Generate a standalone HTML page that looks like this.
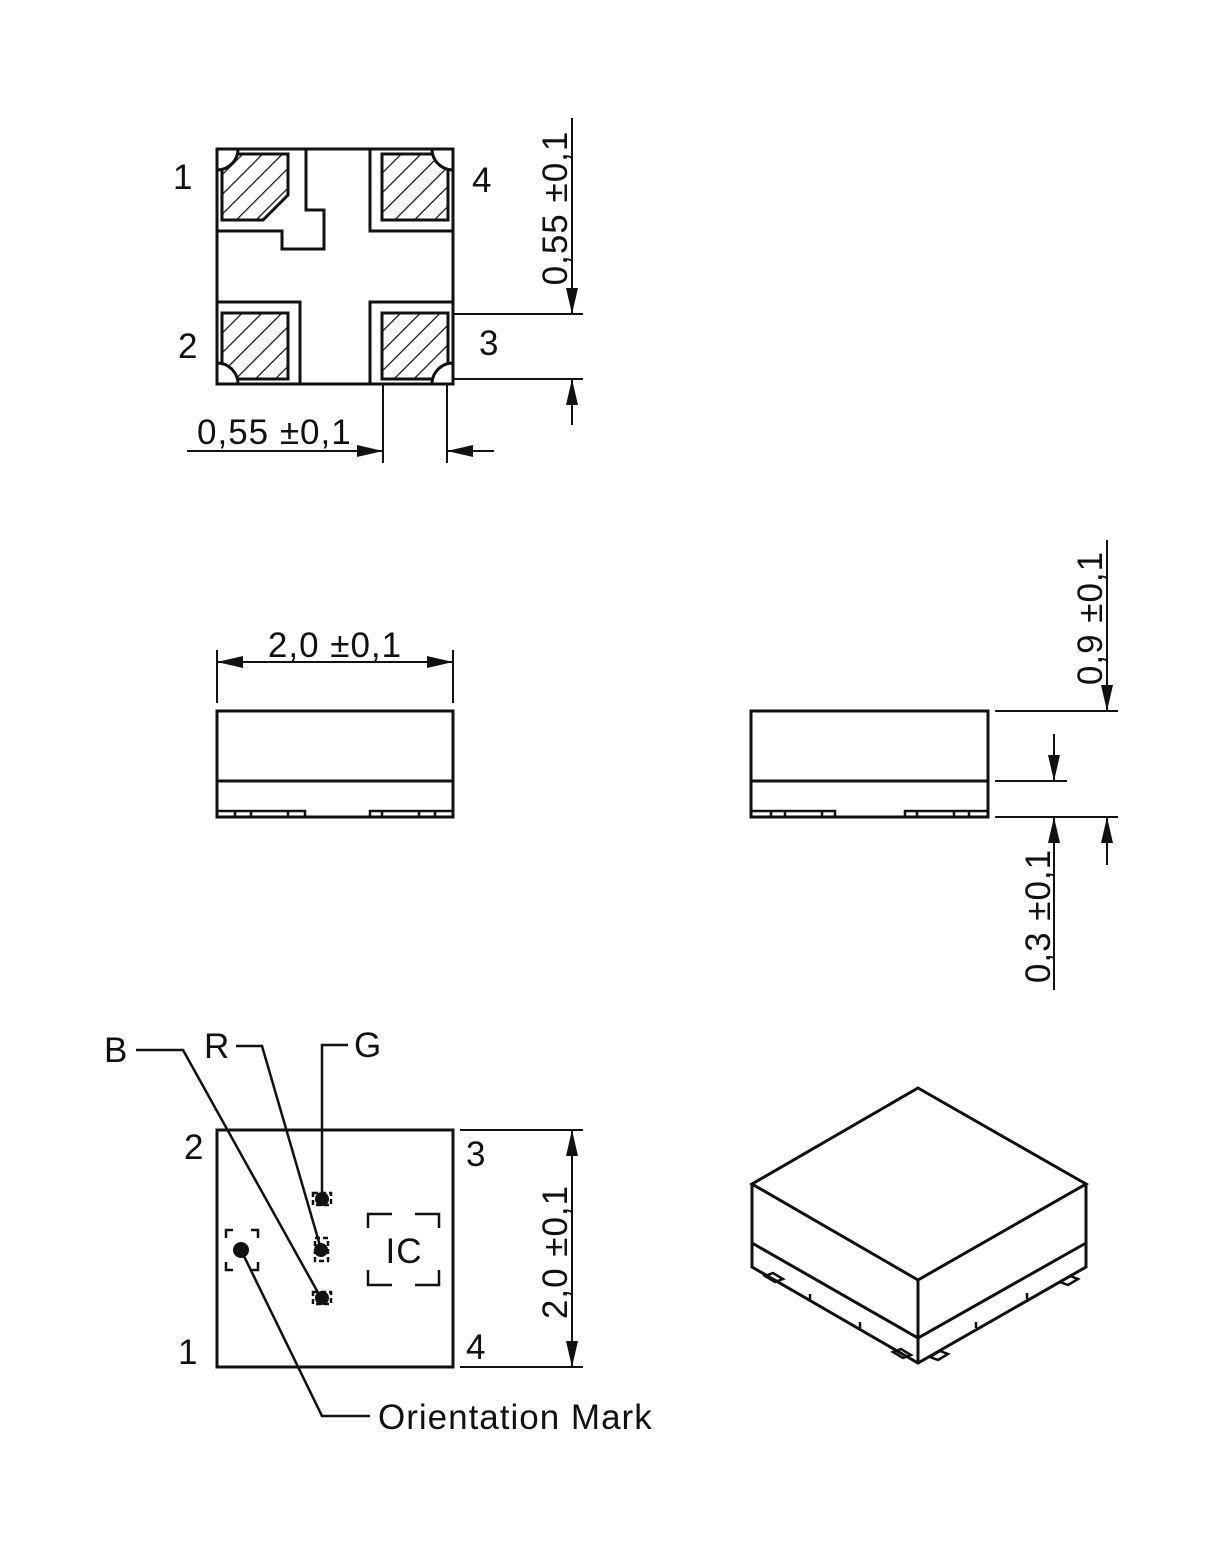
<!DOCTYPE html>
<html><head><meta charset="utf-8"><style>
html,body{margin:0;padding:0;background:#fff}
svg{display:block}
text{font-family:"Liberation Sans",sans-serif;font-size:35px;letter-spacing:1px;fill:#111}
</style></head><body>
<svg width="1229" height="1558" viewBox="0 0 1229 1558" xmlns="http://www.w3.org/2000/svg">
<defs>
<pattern id="h" patternUnits="userSpaceOnUse" width="14" height="14" patternTransform="rotate(45)">
<line x1="0" y1="0" x2="0" y2="14" stroke="#111" stroke-width="2.5"/>
</pattern>
<marker id="a" viewBox="0 0 26 12" refX="26" refY="6" markerWidth="26" markerHeight="12" markerUnits="userSpaceOnUse" orient="auto"><path d="M0,0 L26,6 L0,12z" fill="#111"/></marker>
</defs>
<g stroke="#111" stroke-width="3" fill="none">
<!-- top view -->
<rect x="217" y="149" width="236" height="235"/>
<polyline points="306,149 306,210 324,210 324,249 282,249 282,231 217,231"/>
<polyline points="370,149 370,231 453,231"/>
<polyline points="217,302 300,302 300,384"/>
<polyline points="453,302 370,302 370,384"/>
<g stroke-width="3">
<path d="M222,154 H288 V195 L263,220 H222 Z" fill="url(#h)"/>
<path d="M382,154 H448 V220 H382 Z" fill="url(#h)"/>
<path d="M222,313 H288 V379 H222 Z" fill="url(#h)"/>
<path d="M382,313 H448 V379 H382 Z" fill="url(#h)"/>
</g>
<path d="M217,170 A21,21 0 0 0 238,149 L217,149Z" fill="#fff" stroke="none"/>
<path d="M432,149 A21,21 0 0 0 453,170 L453,149Z" fill="#fff" stroke="none"/>
<path d="M217,363 A21,21 0 0 1 238,384 L217,384Z" fill="#fff" stroke="none"/>
<path d="M432,384 A21,21 0 0 1 453,363 L453,384Z" fill="#fff" stroke="none"/>
<path d="M217,170 A21,21 0 0 0 238,149"/>
<path d="M432,149 A21,21 0 0 0 453,170"/>
<path d="M217,363 A21,21 0 0 1 238,384"/>
<path d="M432,384 A21,21 0 0 1 453,363"/>
<rect x="217" y="149" width="236" height="235"/>
<g stroke-width="2">
<line x1="453" y1="314" x2="583" y2="314"/>
<line x1="453" y1="379" x2="583" y2="379"/>
<line x1="572" y1="118" x2="572" y2="314" marker-end="url(#a)"/>
<line x1="572" y1="425" x2="572" y2="379" marker-end="url(#a)"/>
<line x1="383" y1="384" x2="383" y2="463"/>
<line x1="447" y1="384" x2="447" y2="463"/>
<line x1="187" y1="451" x2="383" y2="451" marker-end="url(#a)"/>
<line x1="494" y1="451" x2="447" y2="451" marker-end="url(#a)"/>
</g>
<!-- front view -->
<rect x="217" y="711" width="236" height="106"/>
<line x1="217" y1="781" x2="453" y2="781"/>
<g stroke-width="2.5">
<polyline points="217,811 305,811 305,817"/>
<line x1="235" y1="811" x2="235" y2="817"/><line x1="251" y1="811" x2="251" y2="817"/><line x1="288" y1="811" x2="288" y2="817"/>
<polyline points="370,817 370,811 453,811"/>
<line x1="382" y1="811" x2="382" y2="817"/><line x1="419" y1="811" x2="419" y2="817"/><line x1="435" y1="811" x2="435" y2="817"/>
</g>
<g stroke-width="2">
<line x1="217" y1="650" x2="217" y2="703"/>
<line x1="453" y1="650" x2="453" y2="703"/>
<line x1="335" y1="662" x2="217" y2="662" marker-end="url(#a)"/>
<line x1="335" y1="662" x2="453" y2="662" marker-end="url(#a)"/>
</g>
<!-- side view -->
<rect x="751" y="711" width="237" height="106"/>
<line x1="751" y1="781" x2="988" y2="781"/>
<g stroke-width="2.5">
<polyline points="751,811 835,811 835,817"/>
<line x1="771" y1="811" x2="771" y2="817"/><line x1="785" y1="811" x2="785" y2="817"/><line x1="822" y1="811" x2="822" y2="817"/>
<polyline points="905,817 905,811 988,811"/>
<line x1="917" y1="811" x2="917" y2="817"/><line x1="954" y1="811" x2="954" y2="817"/><line x1="969" y1="811" x2="969" y2="817"/>
</g>
<g stroke-width="2">
<line x1="995" y1="711" x2="1118" y2="711"/>
<line x1="995" y1="781" x2="1067" y2="781"/>
<line x1="995" y1="817" x2="1118" y2="817"/>
<line x1="1107" y1="540" x2="1107" y2="711" marker-end="url(#a)"/>
<line x1="1107" y1="865" x2="1107" y2="817" marker-end="url(#a)"/>
<line x1="1054" y1="734" x2="1054" y2="781" marker-end="url(#a)"/>
<line x1="1054" y1="990" x2="1054" y2="817" marker-end="url(#a)"/>
</g>
<!-- bottom view -->
<rect x="217" y="1130" width="236" height="237"/>
<g stroke-width="2">
<line x1="460" y1="1130" x2="583" y2="1130"/>
<line x1="460" y1="1367" x2="583" y2="1367"/>
<line x1="572" y1="1250" x2="572" y2="1130" marker-end="url(#a)"/>
<line x1="572" y1="1250" x2="572" y2="1367" marker-end="url(#a)"/>
</g>
<g stroke-width="2.5">
<polyline points="136,1050 183,1050 321,1298"/>
<polyline points="236,1046 262,1046 321,1249"/>
<polyline points="348,1045 322,1045 322,1198"/>
<polyline points="241,1250 322,1416 370,1416"/>
</g>
<g stroke-width="2.5">
<path d="M226,1238 V1230 H233 M251,1230 H258 V1238 M258,1262 V1270 H251 M233,1270 H226 V1262"/>
<path d="M368,1228 V1214 H392 M415,1214 H439 V1228 M439,1270 V1285 H415 M392,1285 H368 V1270"/>
<rect x="313" y="1193" width="18" height="12" stroke-dasharray="5,3"/>
<rect x="315" y="1238" width="13" height="23" stroke-dasharray="5,3"/>
<rect x="313" y="1292" width="18" height="12" stroke-dasharray="5,3"/>
</g>
<!-- 3D -->
<polygon points="918,1088 1086,1184 918,1280 752,1184"/>
<polyline points="752,1184 752,1267 918,1363 1086,1267 1086,1184"/>
<line x1="918" y1="1280" x2="918" y2="1363"/>
<polyline points="752,1243 918,1338 1086,1243"/>
<g stroke-width="2.5">
<path d="M765,1276 l8,-3 l10,6 l-8,3z"/>
<path d="M893,1352 l8,-3 l10,6 l-8,3z"/>
<path d="M930,1357 l10,-6 l8,3 l-10,6z"/>
<path d="M1060,1282 l10,-6 l8,3 l-10,6z"/>
<path d="M810,1300 v-6 M860,1328 v-6 M976,1328 v-6 M1027,1299 v-6"/>
</g>
</g>
<g fill="#111">
<circle cx="241" cy="1250" r="8"/>
<circle cx="322" cy="1199" r="7"/>
<circle cx="321" cy="1250" r="7"/>
<circle cx="322" cy="1298" r="7"/>
</g>
<text x="173" y="189">1</text>
<text x="472" y="192">4</text>
<text x="178" y="358">2</text>
<text x="479" y="355">3</text>
<text x="197" y="444">0,55 ±0,1</text>
<text x="0" y="0" text-anchor="middle" transform="translate(567,208) rotate(-90)">0,55 ±0,1</text>
<text x="335" y="657" text-anchor="middle">2,0 ±0,1</text>
<text x="0" y="0" text-anchor="middle" transform="translate(1102,618) rotate(-90)">0,9 ±0,1</text>
<text x="0" y="0" text-anchor="middle" transform="translate(1050,916) rotate(-90)">0,3 ±0,1</text>
<text x="0" y="0" text-anchor="middle" transform="translate(567,1252) rotate(-90)">2,0 ±0,1</text>
<text x="184" y="1159">2</text>
<text x="466" y="1166">3</text>
<text x="178" y="1364">1</text>
<text x="466" y="1359">4</text>
<text x="104" y="1062">B</text>
<text x="204" y="1058">R</text>
<text x="354" y="1057">G</text>
<text x="404" y="1263" text-anchor="middle">IC</text>
<text x="378" y="1429">Orientation Mark</text>
</svg>
</body></html>
